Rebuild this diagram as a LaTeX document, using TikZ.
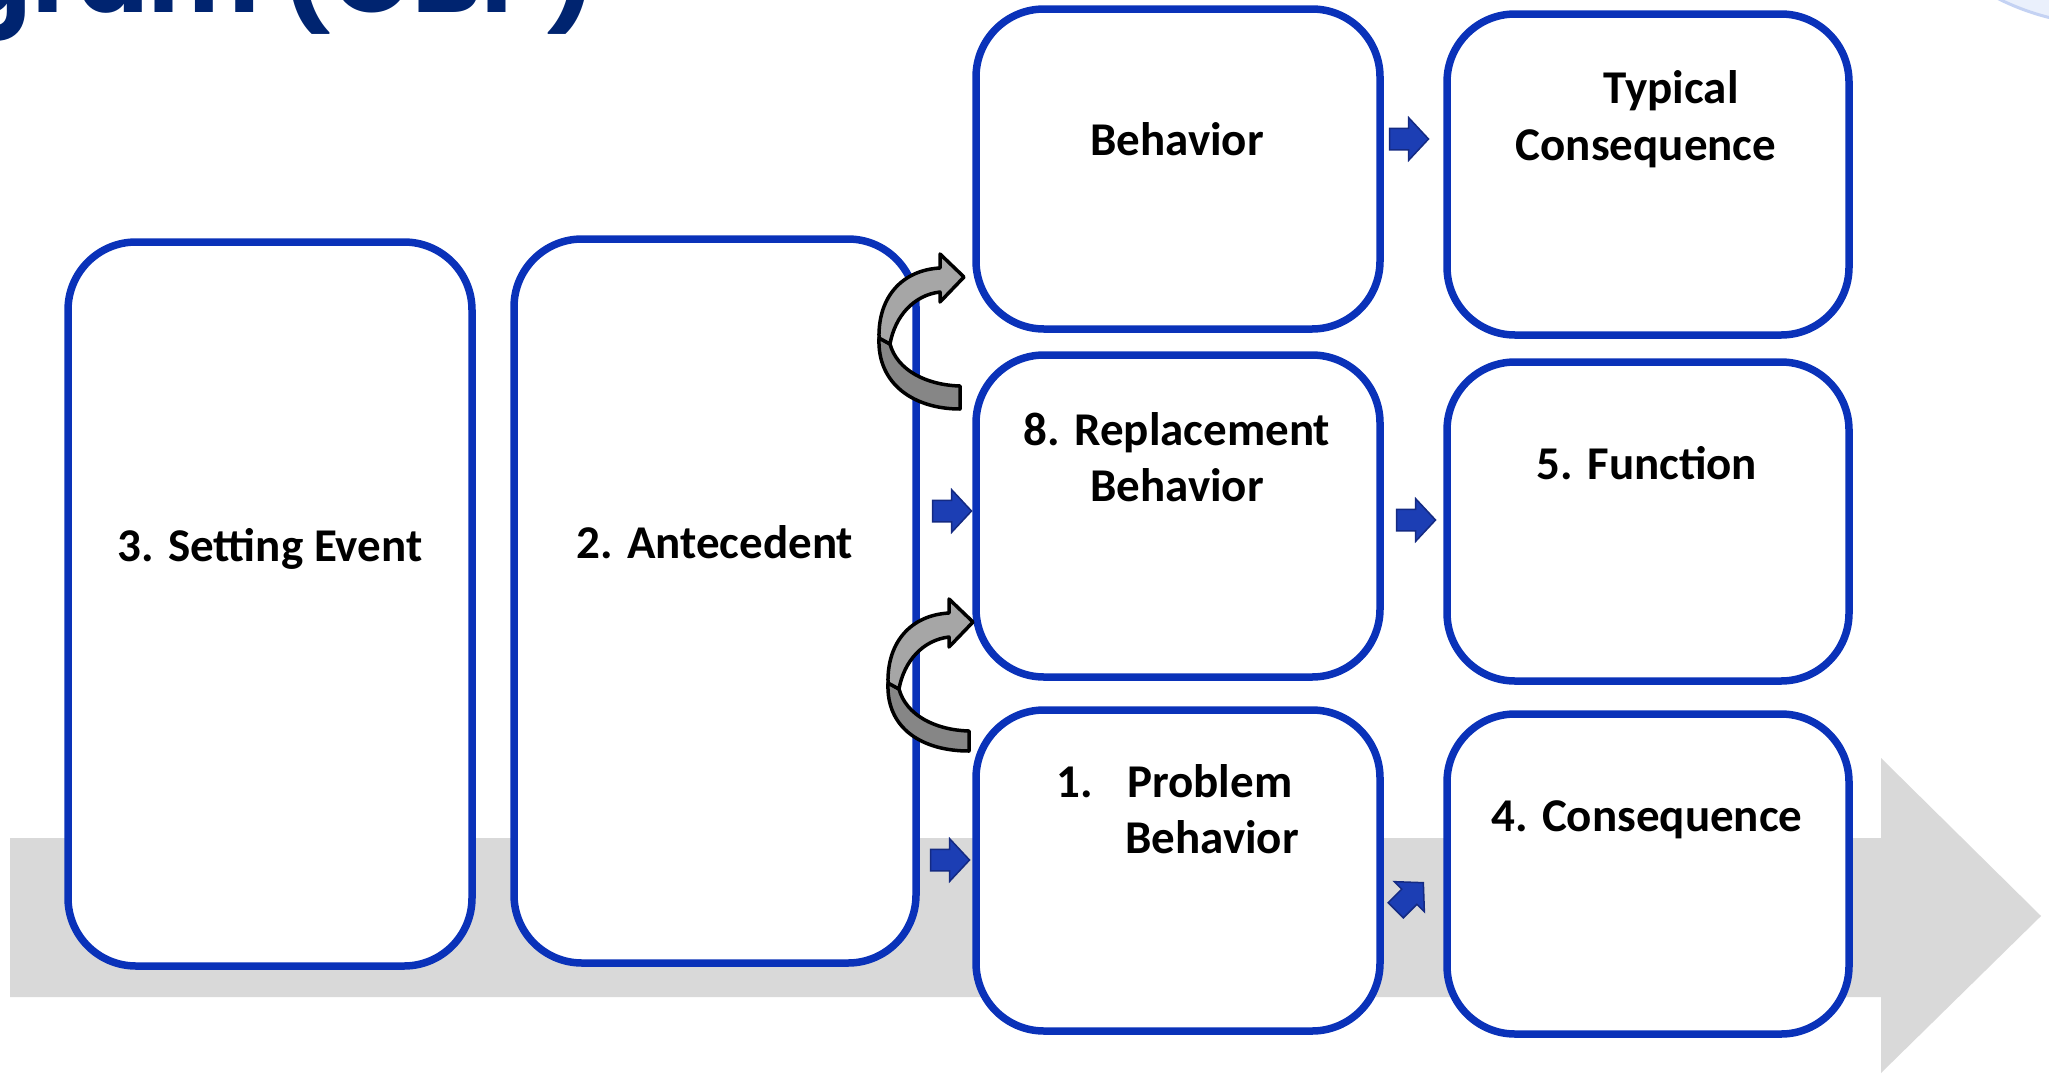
\documentclass[tikz,border=0pt]{standalone}
\usepackage{fontspec}
\setmainfont{Carlito}
\newfontfamily\titlefont{Poppins}
\usetikzlibrary{shapes.arrows}

\definecolor{boxblue}{RGB}{10,50,185}
\definecolor{navy}{RGB}{0,36,112}
\definecolor{flowgray}{RGB}{217,217,217}
\definecolor{arrowfill}{RGB}{28,62,180}
\definecolor{arrowedge}{RGB}{20,42,130}
\definecolor{bandlight}{RGB}{166,166,166}
\definecolor{banddark}{RGB}{134,134,134}
\definecolor{logofill}{RGB}{234,240,252}
\definecolor{logoedge}{RGB}{196,210,243}

\begin{document}
\begin{tikzpicture}[x=1pt,y=-1pt,
  stage/.style={rectangle, draw=boxblue, line width=7.5pt, fill=white,
    rounded corners=68pt, inner sep=0pt},
  lbl/.style={inner sep=0pt, font=\fontsize{47}{57}\selectfont\bfseries},
  blockarrow/.style={single arrow, draw=arrowedge, fill=arrowfill, line width=1.5pt,
    inner xsep=0pt, inner ysep=10pt, minimum height=39pt,
    single arrow head extend=10.5pt, single arrow tip angle=94},
  ribbon/.style={draw=black, line width=3.5pt, line join=round}
]
\useasboundingbox (0,0) rectangle (2049,1074);

% time line running under the whole pathway
\fill[flowgray] (10,838) -- (1881,838) -- (1881,758) -- (2041,916)
  -- (1881,1073) -- (1881,997) -- (10,997) -- cycle;

% corner of the round emblem
\draw[logoedge, fill=logofill, line width=3pt] (2110,-225) circle[radius=250];

% heading
\node[anchor=base east, inner sep=0pt, text=navy,
  font=\titlefont\bfseries\fontsize{105}{110}\selectfont] (heading) at (597,12) {gram (CBP)};

% pathway boxes
\node[stage, minimum width=404pt, minimum height=724pt] (setting) at (270,604) {};
\node[stage, minimum width=402pt, minimum height=724pt] (antecedent) at (715,601) {};
\node[stage, minimum width=404pt, minimum height=320pt] (behavior) at (1178,169) {};
\node[stage, minimum width=402pt, minimum height=321pt] (typical) at (1648,174.5) {};
\node[stage, minimum width=404pt, minimum height=322pt] (replacement) at (1178,516) {};
\node[stage, minimum width=402pt, minimum height=319pt] (function) at (1648,521.5) {};
\node[stage, minimum width=404pt, minimum height=321pt] (problem) at (1178,870.5) {};
\node[stage, minimum width=402pt, minimum height=320pt] (consequence) at (1648,874) {};

% box texts
\node[lbl, anchor=base] (settingtxt) at (270,561) {3. Setting Event};
\node[lbl, anchor=base] (antecedenttxt) at (715,558) {2. Antecedent};
\node[lbl, anchor=base] (behaviortxt) at (1177,155) {Behavior};
\node[lbl, anchor=base] (typicaltxtA) at (1671,103) {Typical};
\node[lbl, anchor=base] (typicaltxtB) at (1646,160) {Consequence};
\node[lbl, anchor=base] (replacementtxtA) at (1177,445) {8. Replacement};
\node[lbl, anchor=base] (replacementtxtB) at (1177,501) {Behavior};
\node[lbl, anchor=base] (functiontxt) at (1647,479) {5. Function};
\node[lbl, anchor=base west] (problemnum) at (1056,797) {1.};
\node[lbl, anchor=base west] (problemtxtA) at (1127,797) {Problem};
\node[lbl, anchor=base west] (problemtxtB) at (1125,853) {Behavior};
\node[lbl, anchor=base] (consequencetxt) at (1647,831) {4. Consequence};

% small block arrows between the boxes
\node[blockarrow] (arrowA) at (1404,139) {};
\node[blockarrow] (arrowB) at (947,511) {};
\node[blockarrow] (arrowC) at (945,860) {};
\node[blockarrow] (arrowD) at (1411,520) {};
\node[blockarrow, rotate=45] (arrowE) at (1406,900) {};

% curved ribbon arrows
\filldraw[ribbon, fill=banddark] (879,338) .. controls (877,384) and (914,409) .. (960,409)
  -- (960,386) .. controls (926,385) and (897,370) .. (890,344) -- cycle;
\filldraw[ribbon, fill=bandlight] (879,338) .. controls (878,296) and (903,270) .. (940,268)
  -- (940,254) -- (964,277) -- (940,302) -- (940,292)
  .. controls (914,295) and (895,316) .. (890,344) -- cycle;
\begin{scope}[shift={(9,345)}]
\filldraw[ribbon, fill=banddark] (879,338) .. controls (877,384) and (914,406) .. (960,406)
  -- (960,386) .. controls (926,385) and (897,370) .. (890,344) -- cycle;
\filldraw[ribbon, fill=bandlight] (879,338) .. controls (878,296) and (903,270) .. (940,268)
  -- (940,254) -- (964,277) -- (940,302) -- (940,292)
  .. controls (914,295) and (895,316) .. (890,344) -- cycle;
\end{scope}
\end{tikzpicture}
\end{document}
